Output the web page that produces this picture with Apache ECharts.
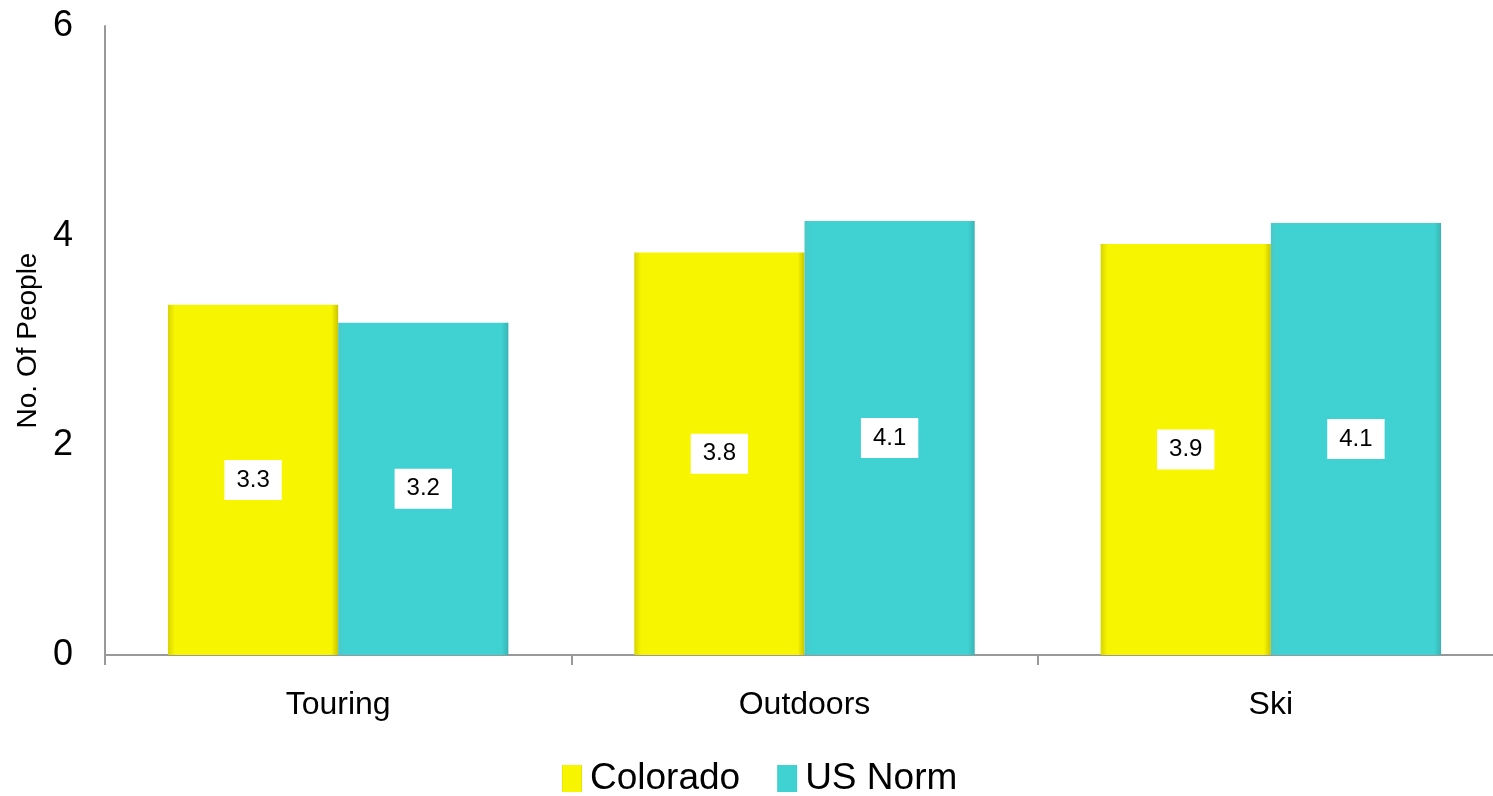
<!DOCTYPE html>
<html>
<head>
<meta charset="utf-8">
<script src="https://cdn.jsdelivr.net/npm/echarts@6/dist/echarts.min.js"></script>
<style>
html,body{margin:0;padding:0;background:#fff;overflow:hidden;width:1493px;height:796px;}
#chart{width:1504px;height:796px;}
</style>
</head>
<body>
<div id="chart"></div>
<script>
const categories = ['Touring', 'Outdoors', 'Ski'];
const seriesNames = ['Colorado', 'US Norm'];
const colorado = [3.34, 3.84, 3.92];
const usNorm = [3.17, 4.14, 4.12];
const yTicks = { min: 0, max: 6, interval: 2 };

const yellowFill = new echarts.graphic.LinearGradient(0, 0, 1, 0, [
  { offset: 0, color: '#D8D400' },
  { offset: 0.04, color: '#F8F500' },
  { offset: 0.96, color: '#F8F500' },
  { offset: 1, color: '#C8C400' }
]);
const cyanFill = new echarts.graphic.LinearGradient(0, 0, 1, 0, [
  { offset: 0, color: '#4CC8C8' },
  { offset: 0.04, color: '#40D2D2' },
  { offset: 0.96, color: '#40D2D2' },
  { offset: 1, color: '#38B4B4' }
]);

const labelStyle = {
  show: true,
  position: 'inside',
  backgroundColor: '#ffffff',
  color: '#000',
  fontSize: 24,
  fontFamily: 'Liberation Sans, Arial, sans-serif',
  padding: [8, 12],
  formatter: p => p.value.toFixed(1)
};

const chart = echarts.init(document.getElementById('chart'));
chart.setOption({
  animation: false,
  backgroundColor: '#ffffff',
  color: ['#F8F500', '#40D2D2'],
  grid: { left: 105, top: 26, right: 0, bottom: 141, containLabel: false },
  legend: {
    data: seriesNames,
    top: 755,
    left: 557,
    icon: 'rect',
    itemWidth: 20,
    itemHeight: 27,
    itemGap: 37,
    textStyle: { fontSize: 37, color: '#000', fontFamily: 'Liberation Sans, Arial, sans-serif', padding: [0, 0, 0, 3] }
  },
  xAxis: {
    type: 'category',
    data: categories,
    axisLine: { lineStyle: { color: '#999', width: 2 } },
    axisTick: { show: true, length: 10, lineStyle: { color: '#999', width: 2 } },
    axisLabel: { fontSize: 32, color: '#000', margin: 34, fontFamily: 'Liberation Sans Narrow, Arial Narrow, Liberation Sans, sans-serif' }
  },
  yAxis: {
    type: 'value',
    min: yTicks.min,
    max: yTicks.max,
    interval: yTicks.interval,
    name: 'No. Of People',
    nameLocation: 'middle',
    nameGap: 63,
    nameTextStyle: { fontSize: 28, color: '#000', fontFamily: 'Liberation Sans, Arial, sans-serif' },
    axisLine: { show: true, lineStyle: { color: '#999', width: 2 } },
    axisTick: { show: false },
    splitLine: { show: false },
    axisLabel: { fontSize: 36, color: '#000', margin: 32, fontFamily: 'Liberation Sans, Arial, sans-serif' }
  },
  series: [
    {
      name: seriesNames[0],
      type: 'bar',
      data: colorado,
      barGap: '0%',
      barCategoryGap: '27%',
      itemStyle: { color: yellowFill },
      label: labelStyle
    },
    {
      name: seriesNames[1],
      type: 'bar',
      data: usNorm,
      itemStyle: { color: cyanFill },
      label: labelStyle
    }
  ]
});
</script>
</body>
</html>
